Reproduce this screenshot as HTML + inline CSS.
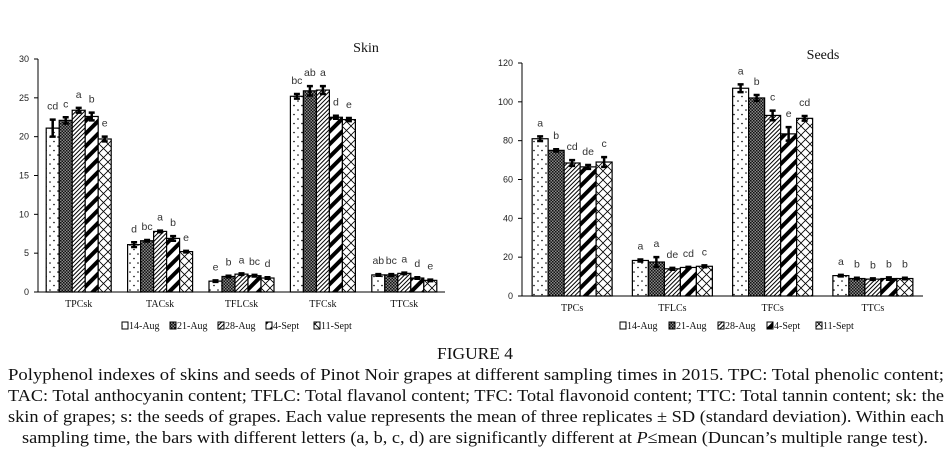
<!DOCTYPE html>
<html><head><meta charset="utf-8">
<style>
html,body{margin:0;padding:0;background:#fff;}
svg{display:block;}
</style></head>
<body>
<svg id="fig" width="950" height="461" viewBox="0 0 950 461" xmlns="http://www.w3.org/2000/svg">
<defs>
<pattern id="p0" width="8" height="9" patternUnits="userSpaceOnUse"><rect width="8" height="9" fill="#fff"/><circle cx="2" cy="2" r="0.8" fill="#000"/><circle cx="6" cy="6.5" r="0.8" fill="#000"/></pattern>
<pattern id="p1" width="3" height="3" patternUnits="userSpaceOnUse"><rect width="3" height="3" fill="#888"/><rect width="1.5" height="1.5" fill="#111"/><rect x="1.5" y="1.5" width="1.5" height="1.5" fill="#111"/></pattern>
<pattern id="p2" width="3" height="3" patternUnits="userSpaceOnUse" patternTransform="rotate(45)"><rect width="3" height="3" fill="#fff"/><rect width="1" height="3" fill="#000"/></pattern>
<pattern id="p3" width="9" height="9" patternUnits="userSpaceOnUse" patternTransform="rotate(45)"><rect width="9" height="9" fill="#fff"/><rect width="4" height="9" fill="#000"/></pattern>
<pattern id="p4" width="9" height="9" patternUnits="userSpaceOnUse"><rect width="9" height="9" fill="#fff"/><path d="M0 0L9 9M9 0L0 9" stroke="#000" stroke-width="0.8"/></pattern>
</defs>
<g id="skin"></g>
<g id="seeds"></g>
<g font-family="Liberation Serif, serif" font-size="17" fill="#111">
<text x="475" y="359" text-anchor="middle" textLength="76" lengthAdjust="spacingAndGlyphs">FIGURE 4</text>
<text x="8" y="380" textLength="936" lengthAdjust="spacingAndGlyphs">Polyphenol indexes of skins and seeds of Pinot Noir grapes at different sampling times in 2015. TPC: Total phenolic content;</text>
<text x="8" y="401" textLength="936" lengthAdjust="spacingAndGlyphs">TAC: Total anthocyanin content; TFLC: Total flavanol content; TFC: Total flavonoid content; TTC: Total tannin content; sk: the</text>
<text x="8" y="422" textLength="936" lengthAdjust="spacingAndGlyphs">skin of grapes; s: the seeds of grapes. Each value represents the mean of three replicates ± SD (standard deviation). Within each</text>
<text x="22" y="443" textLength="906" lengthAdjust="spacingAndGlyphs">sampling time, the bars with different letters (a, b, c, d) are significantly different at <tspan font-style="italic">P</tspan>≤mean (Duncan’s multiple range test).</text>
</g>
</svg>
<script>
const seriesNames = ["14-Aug","21-Aug","28-Aug","4-Sept","11-Sept"];
const skinCats = ["TPCsk","TACsk","TFLCsk","TFCsk","TTCsk"];
const skinVals = [[21.1,22.1,23.4,22.6,19.7],[6.1,6.6,7.8,6.9,5.2],[1.4,2.0,2.3,2.1,1.8],[25.2,25.9,26.0,22.5,22.2],[2.2,2.2,2.4,1.8,1.5]];
const skinErr = [[1.1,0.4,0.3,0.5,0.3],[0.3,0.1,0.1,0.3,0.1],[0.1,0.1,0.1,0.1,0.1],[0.3,0.6,0.5,0.2,0.2],[0.1,0.1,0.1,0.1,0.1]];
const skinLetters = [["cd","c","a","b","e"],["d","bc","a","b","e"],["e","b","a","bc","d"],["bc","ab","a","d","e"],["ab","bc","a","d","e"]];
const skinTicks = [0,5,10,15,20,25,30];
const seedCats = ["TPCs","TFLCs","TFCs","TTCs"];
const seedVals = [[81,75,68.5,66.5,69],[18.3,17.5,14,14.7,15.3],[107,102,93,83.5,91.5],[10.5,9,8.7,9,9]];
const seedErr = [[1.2,0.6,1.5,1.0,2.5],[0.5,2.5,0.5,0.3,0.5],[2.0,1.5,2.5,3.5,1.2],[0.4,0.4,0.4,0.6,0.4]];
const seedLetters = [["a","b","cd","de","c"],["a","a","de","cd","c"],["a","b","c","e","cd"],["a","b","b","b","b"]];
const seedTicks = [0,20,40,60,80,100,120];

const NS="http://www.w3.org/2000/svg";
function mk(parent,tag,attrs,txt){const e=document.createElementNS(NS,tag);for(const k in attrs)e.setAttribute(k,attrs[k]);if(txt!==undefined)e.textContent=txt;parent.appendChild(e);return e;}

function chart(g,cfg){
  const {x0,x1,y0,yTop,max,cats,vals,errs,letters,ticks,barW,title,tx,ty,catY,legX,legY,legSp}=cfg;
  const ys=v=>y0-(v/max)*(y0-yTop);
  const gw=(x1-x0)/cats.length;
  const ax=mk(g,"path",{d:`M${x0} ${yTop}V${y0}H${x1}`,stroke:"#000","stroke-width":1,fill:"none"});
  
  
  ticks.forEach(t=>{
    const y=ys(t);
    const tk=mk(g,"line",{x1:x0-4,x2:x0,y1:y,y2:y,stroke:"#000"});
    
    
    const tl=mk(g,"text",{x:x0-9,y:y+3,"text-anchor":"end","font-family":"Liberation Sans, sans-serif","font-size":9,fill:"#222"},t);
    
    
  });
  const tt=mk(g,"text",{x:tx,y:ty,"text-anchor":"middle","font-family":"Liberation Serif, serif","font-size":14,fill:"#111"},title);
  
  
  cats.forEach((c,i)=>{
    const cx=x0+gw*(i+0.5);
    const start=cx-barW*2.5;
    const cl=mk(g,"text",{x:cx,y:catY,"text-anchor":"middle","font-family":"Liberation Serif, serif","font-size":10,fill:"#111"},c);
    
    
    vals[i].forEach((v,j)=>{
      const bx=start+j*barW, by=ys(v);
      const r=mk(g,"rect",{x:bx,y:by,width:barW,height:y0-by,fill:`url(#p${j})`,stroke:"#000","stroke-width":1.2});
      
      
      const ex=bx+barW/2, e=errs[i][j];
      const eb=mk(g,"path",{d:`M${ex} ${ys(v+e)}V${ys(v-e)}M${ex-3} ${ys(v+e)}H${ex+3}M${ex-3} ${ys(v-e)}H${ex+3}`,stroke:"#000","stroke-width":2.5,fill:"none"});
      
      
      const lt=mk(g,"text",{x:ex,y:ys(v+e)-10,"text-anchor":"middle","font-family":"Liberation Sans, sans-serif","font-size":10.5,fill:"#333"},letters[i][j]);
      
      
    });
  });
  const lg=mk(g,"g",{});
  
  
  seriesNames.forEach((s,j)=>{
    const lx=legX+j*legSp;
    const sw=mk(lg,"rect",{x:lx,y:legY-7,width:6,height:7,fill:`url(#p${j})`,stroke:"#000","stroke-width":1});
    
    
    const lt=mk(lg,"text",{x:lx+7,y:legY,"font-family":"Liberation Serif, serif","font-size":10,fill:"#111"},s);
    
    
  });
}
chart(document.getElementById('skin'),{x0:38,x1:445,y0:292,yTop:59,max:30,cats:skinCats,vals:skinVals,errs:skinErr,letters:skinLetters,ticks:skinTicks,barW:13,title:"Skin",tx:366,ty:52,catY:307,legX:122,legY:329,legSp:48});
chart(document.getElementById('seeds'),{x0:522,x1:923,y0:296,yTop:63,max:120,cats:seedCats,vals:seedVals,errs:seedErr,letters:seedLetters,ticks:seedTicks,barW:16,title:"Seeds",tx:823,ty:59,catY:311,legX:620,legY:329,legSp:49});
</script>
</body></html>
